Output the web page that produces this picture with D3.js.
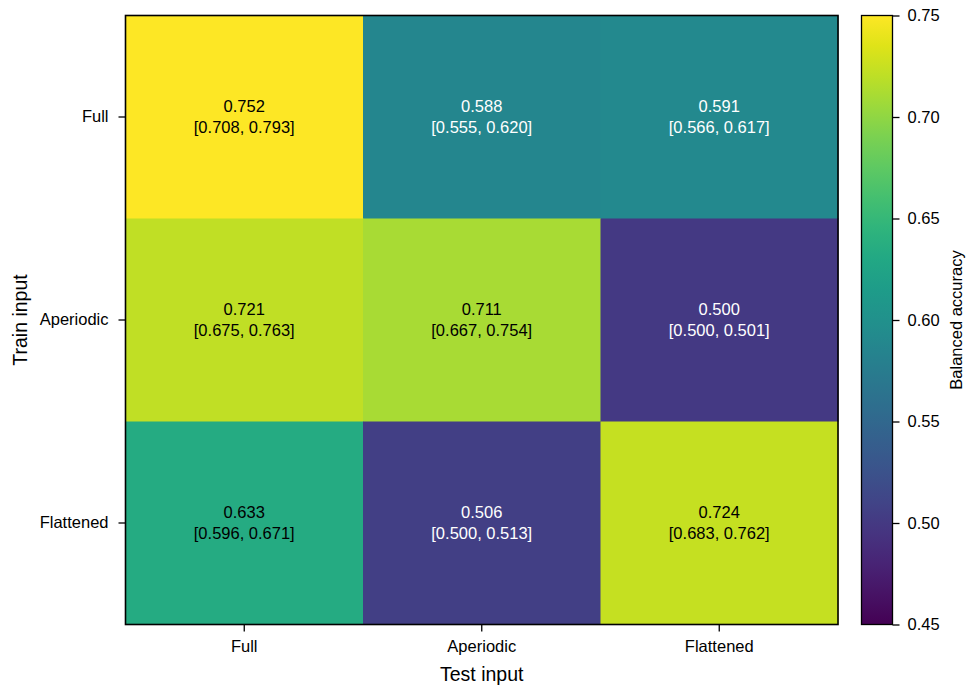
<!DOCTYPE html>
<html><head><meta charset="utf-8">
<script src="https://cdn.jsdelivr.net/npm/d3@7"></script>
<style>body{margin:0;background:#fff}svg{font-family:"Liberation Sans",Arial,Helvetica,sans-serif}</style>
</head><body><svg id="c" width="968" height="688"></svg>
<script>
const testInputs = ["Full","Aperiodic","Flattened"];
const trainInputs = ["Full","Aperiodic","Flattened"];
const means = [[0.752,0.588,0.591],[0.721,0.711,0.500],[0.633,0.506,0.724]];
const lows  = [[0.708,0.555,0.566],[0.675,0.667,0.500],[0.596,0.500,0.683]];
const highs = [[0.793,0.620,0.617],[0.763,0.754,0.501],[0.671,0.513,0.762]];
const cbTicks = [0.45,0.50,0.55,0.60,0.65,0.70,0.75];
const vmin = 0.45, vmax = 0.75;

const svg = d3.select("#c");
const L=125.5, T=15.5, R=838, B=624.5;
const FS=16.5;
const x = d3.scaleBand().domain(testInputs).range([L,R]);
const y = d3.scaleBand().domain(trainInputs).range([T,B]);
const color = v => d3.interpolateViridis(Math.max(0,Math.min(1,(v-vmin)/(vmax-vmin))));

const cells=[];
trainInputs.forEach((r,i)=>testInputs.forEach((c,j)=>cells.push({r,c,m:means[i][j],lo:lows[i][j],hi:highs[i][j]})));

const g = svg.append("g");
g.selectAll("rect.cell").data(cells).join("rect")
 .attr("x",d=>x(d.c)).attr("y",d=>y(d.r)).attr("width",x.bandwidth()+0.5).attr("height",y.bandwidth()+0.5)
 .attr("fill",d=>color(d.m));
const txt = g.selectAll("text.cell").data(cells).join("text")
 .attr("text-anchor","middle").attr("font-size",FS)
 .attr("fill",d=>d.m>=0.62?"#000":"#fff");
txt.append("tspan").attr("x",d=>x(d.c)+x.bandwidth()/2).attr("y",d=>y(d.r)+y.bandwidth()/2-5).text(d=>d.m.toFixed(3));
txt.append("tspan").attr("x",d=>x(d.c)+x.bandwidth()/2).attr("y",d=>y(d.r)+y.bandwidth()/2+16).text(d=>`[${d.lo.toFixed(3)}, ${d.hi.toFixed(3)}]`);

svg.append("rect").attr("x",L).attr("y",T).attr("width",R-L).attr("height",B-T).attr("fill","none").attr("stroke","#000").attr("stroke-width",1.6);

const xa = svg.append("g").attr("transform",`translate(0,${B})`).call(d3.axisBottom(x).tickSize(7).tickPadding(7));
const ya = svg.append("g").attr("transform",`translate(${L},0)`).call(d3.axisLeft(y).tickSize(7).tickPadding(10));
[xa,ya].forEach(a=>{a.select(".domain").remove();a.selectAll("line").attr("stroke","#000").attr("stroke-width",1.3);a.selectAll("text").attr("font-size",FS).attr("fill","#000").attr("font-family",null);});
xa.selectAll("text").attr("dy","0.8em");

svg.append("text").attr("x",(L+R)/2).attr("y",681).attr("text-anchor","middle").attr("font-size",19.5).text("Test input");
svg.append("text").attr("transform",`translate(27,${(T+B)/2}) rotate(-90)`).attr("text-anchor","middle").attr("font-size",19.5).text("Train input");

// colorbar
const cbL=861.5, cbR=892.5;
const cy = d3.scaleLinear().domain([vmin,vmax]).range([B,T]);
const defs = svg.append("defs");
const grad = defs.append("linearGradient").attr("id","vg").attr("x1",0).attr("y1",1).attr("x2",0).attr("y2",0);
d3.range(0,1.0001,0.05).forEach(t=>grad.append("stop").attr("offset",t).attr("stop-color",d3.interpolateViridis(t)));
svg.append("rect").attr("x",cbL).attr("y",T).attr("width",cbR-cbL).attr("height",B-T).attr("fill","url(#vg)").attr("stroke","#000").attr("stroke-width",1.3);
const ca = svg.append("g").attr("transform",`translate(${cbR},0)`).call(d3.axisRight(cy).tickValues(cbTicks).tickFormat(d3.format(".2f")).tickSize(7).tickPadding(8));
ca.select(".domain").remove();
ca.selectAll("line").attr("stroke","#000").attr("stroke-width",1.3);
ca.selectAll("text").attr("font-size",FS).attr("fill","#000").attr("font-family",null);
svg.append("text").attr("transform",`translate(962,${(T+B)/2}) rotate(-90)`).attr("text-anchor","middle").attr("font-size",FS).text("Balanced accuracy");
</script></body></html>
